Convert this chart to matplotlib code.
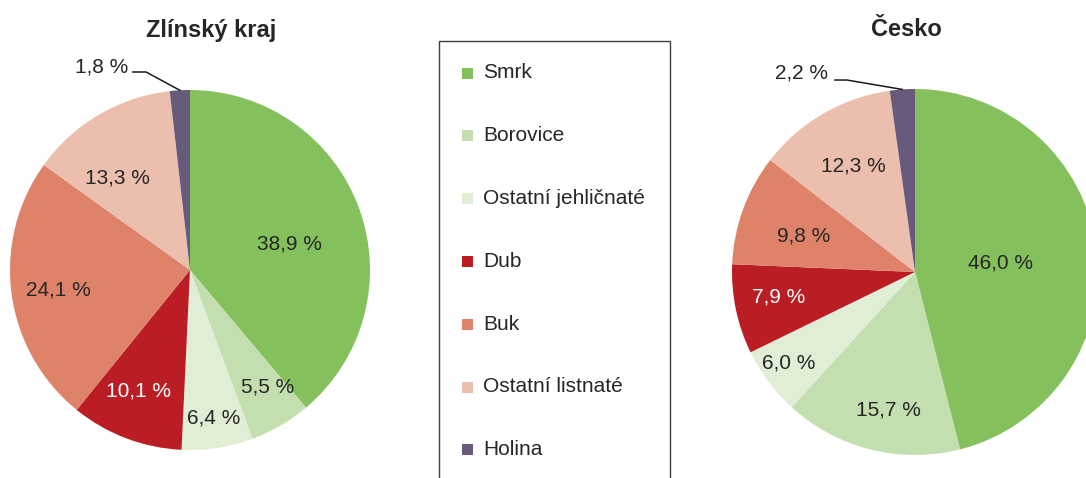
# pie charts: tree species composition, Zlinsky kraj vs Cesko
import matplotlib
matplotlib.use("Agg")
import numpy as np
import matplotlib.pyplot as plt
from matplotlib.patches import Rectangle

plt.rcParams['font.family'] = ['Liberation Sans', 'DejaVu Sans']

# data
species = ["Smrk", "Borovice", "Ostatní jehličnaté", "Dub", "Buk",
           "Ostatní listnaté", "Holina"]
zlin_values = [38.9, 5.5, 6.4, 10.1, 24.1, 13.3, 1.8]
cz_values = [46.0, 15.7, 6.0, 7.9, 9.8, 12.3, 2.2]
titles = ["Zlínský kraj", "Česko"]

colors = ["#84c05c", "#c4dfaf", "#e0eed6", "#ba1e24", "#de836a",
          "#ecbead", "#685a7a"]
label_colors = ["#262626", "#262626", "#262626", "white", "#262626",
                "#262626", "#262626"]

# label placement (radius fraction, angle shift in deg) per slice
zlin_lab_r = [0.57, 0.78, 0.83, 0.73, 0.74, 0.65]
zlin_lab_da = [-5.4, 3.5, 0.2, -2.4, 0.8, 7.9]
cz_lab_r = [0.47, 0.77, 0.85, 0.76, 0.64, 0.67]
cz_lab_da = [-1.2, 3.2, -1.0, -1.4, 2.0, 0.0]

txt_col = "#262626"
fs = 15

W, H = 1086, 478
fig = plt.figure(figsize=(W / 100, H / 100), dpi=100)


def px_axes(cx, cy, r):
    # axes centered at pixel (cx, cy) from top-left, radius r px
    return fig.add_axes([(cx - r) / W, (H - cy - r) / H, 2 * r / W, 2 * r / H])


def fmt(v):
    return f"{v:.1f}".replace(".", ",") + " %"


def draw_pie(ax, values, lab_r, lab_da, leader, title, title_xy):
    wedges, _ = ax.pie(values, colors=colors, startangle=90, counterclock=False,
                       radius=1, wedgeprops=dict(linewidth=0))
    ax.set_xlim(-1, 1)
    ax.set_ylim(-1, 1)
    ax.set_aspect("equal")
    ax.axis("off")
    for i, w in enumerate(wedges[:-1]):
        ang = np.deg2rad((w.theta1 + w.theta2) / 2 + lab_da[i])
        ax.text(lab_r[i] * np.cos(ang), lab_r[i] * np.sin(ang), fmt(values[i]),
                ha="center", va="center", fontsize=fs, color=label_colors[i])
    # last (small) slice gets a leader line
    w = wedges[-1]
    ang = np.deg2rad((w.theta1 + w.theta2) / 2)
    ex, ey = np.cos(ang), np.sin(ang)
    (kx, ky), hx, (tx, ty) = leader
    ax.plot([ex, kx, hx], [ey, ky, ky], color="#1a1a1a", lw=1.1, clip_on=False)
    ax.text(tx, ty, fmt(values[-1]), ha="right", va="center", fontsize=fs,
            color=txt_col, clip_on=False)
    fig.text(title_xy[0] / W, 1 - title_xy[1] / H, title, ha="center",
             va="center", fontsize=17, fontweight="bold", color=txt_col)


ax1 = px_axes(190, 270, 180)
draw_pie(ax1, zlin_values, zlin_lab_r, zlin_lab_da,
         ((-0.244, 1.10), -0.317, (-0.344, 1.128)), titles[0], (211, 30))

ax2 = px_axes(915, 272, 183)
draw_pie(ax2, cz_values, cz_lab_r, cz_lab_da,
         ((-0.372, 1.049), -0.437, (-0.475, 1.087)), titles[1], (906, 30))

# legend box (runs off the bottom edge)
fig.patches.append(Rectangle((439 / W, -20 / H), (670 - 439) / W, (H - 41 + 20) / H,
                             transform=fig.transFigure, fill=False,
                             edgecolor="#404040", lw=1.0))
for i, (name, c) in enumerate(zip(species, colors)):
    y = 73 + i * 62.8
    fig.patches.append(Rectangle((462 / W, 1 - (y + 5.5) / H), 11 / W, 11 / H,
                                 transform=fig.transFigure, color=c, lw=0))
    fig.text(483 / W, 1 - y / H, name, ha="left", va="center", fontsize=fs,
             color=txt_col)

fig.savefig("out.png", dpi=100)
